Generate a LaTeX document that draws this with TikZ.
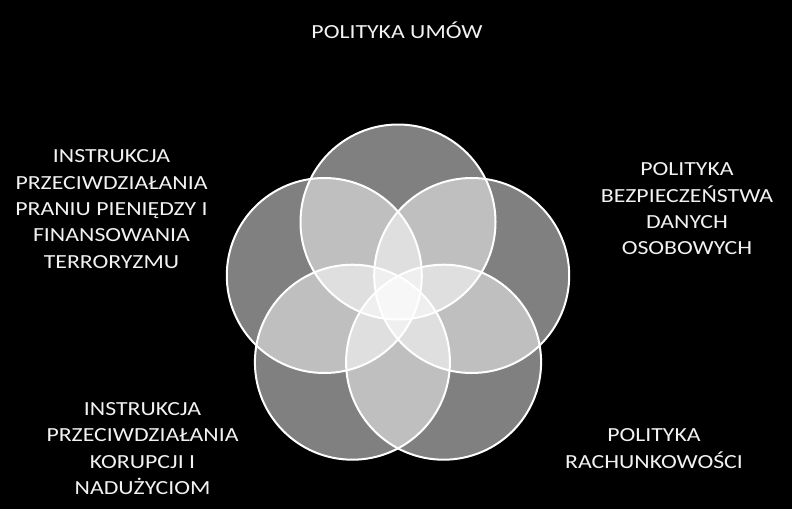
\documentclass[tikz,border=0pt]{standalone}
\usepackage{fontspec}
\setmainfont{Carlito}[FakeStretch=1.19]
\begin{document}
\begin{tikzpicture}[x=1pt,y=-1pt,
  lbl/.style={text=white!95!black,align=center,inner sep=0pt,font=\fontsize{20}{26.3}\selectfont},
  ring/.style={draw=white,line width=2pt},
  disc/.style={fill=white,fill opacity=0.5}]
\fill[black] (0,0) rectangle (792,509);
\useasboundingbox (0,0) rectangle (792,509);
\def\rr{97.5}
\coordinate (cT) at (398,222);
\coordinate (cL) at (324.3,275.5);
\coordinate (cR) at (471.7,275.5);
\coordinate (cBL) at (352.4,362.2);
\coordinate (cBR) at (443.6,362.2);
\foreach \c in {cT,cL,cR,cBL,cBR} {\fill[disc] (\c) circle (\rr);}
\foreach \c in {cT,cL,cR,cBL,cBR} {\draw[ring] (\c) circle (\rr);}
\node[lbl,anchor=base] (tUmow) at (397,38) {POLITYKA UMÓW};
\node[lbl] (tDane) at (687,209) {POLITYKA\\BEZPIECZEŃSTWA\\DANYCH\\OSOBOWYCH};
\node[lbl] (tPranie) at (111.5,209) {INSTRUKCJA\\PRZECIWDZIAŁANIA\\PRANIU PIENIĘDZY I\\FINANSOWANIA\\TERRORYZMU};
\node[lbl] (tKorupcja) at (142.5,448.5) {INSTRUKCJA\\PRZECIWDZIAŁANIA\\KORUPCJI I\\NADUŻYCIOM};
\node[lbl] (tRach) at (654,448.5) {POLITYKA\\RACHUNKOWOŚCI};
\end{tikzpicture}
\end{document}
